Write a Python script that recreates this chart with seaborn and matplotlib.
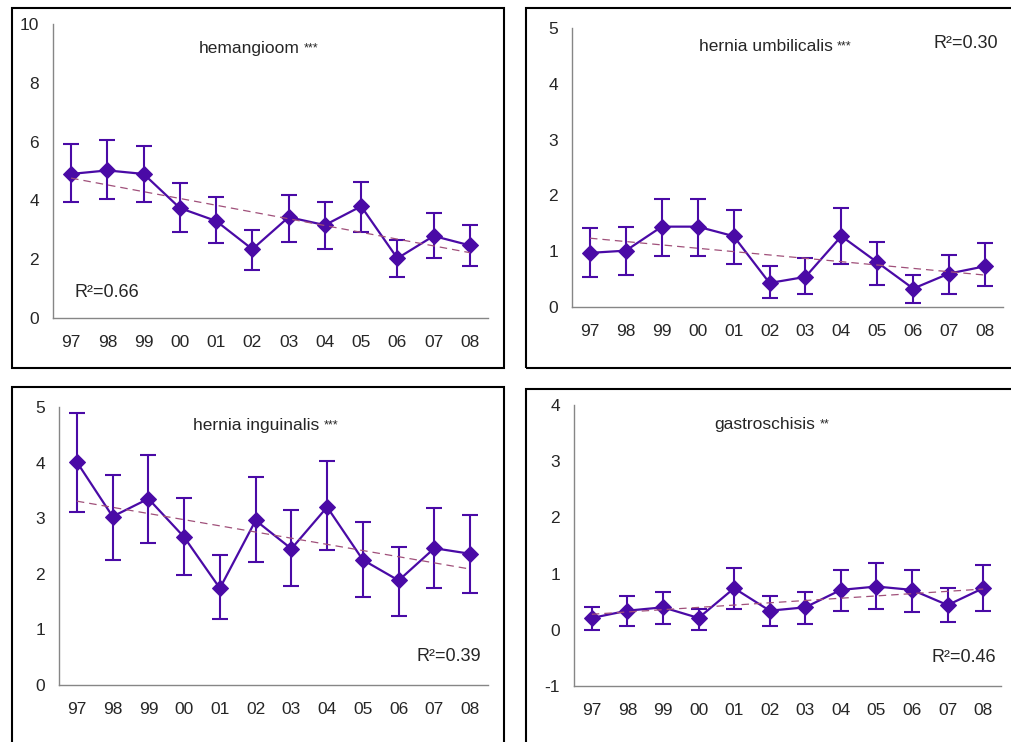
import numpy as np
import pandas as pd
import matplotlib.pyplot as plt
import seaborn as sns
from matplotlib.patches import Rectangle

# year labels (1997-2008)
years = ['97', '98', '99', '00', '01', '02', '03', '04', '05', '06', '07', '08']

# hemangioom
hem_rate = [4.90, 5.02, 4.90, 3.74, 3.30, 2.34, 3.43, 3.16, 3.80, 2.03, 2.79, 2.47]
hem_low = [3.94, 4.05, 3.94, 2.92, 2.54, 1.64, 2.60, 2.34, 2.92, 1.39, 2.03, 1.78]
hem_high = [5.92, 6.05, 5.85, 4.59, 4.13, 2.99, 4.20, 3.95, 4.64, 2.67, 3.57, 3.17]

# hernia umbilicalis
umb_rate = [0.97, 1.01, 1.44, 1.44, 1.27, 0.43, 0.54, 1.27, 0.80, 0.33, 0.60, 0.73]
umb_low = [0.54, 0.57, 0.91, 0.91, 0.77, 0.17, 0.24, 0.77, 0.40, 0.07, 0.24, 0.37]
umb_high = [1.41, 1.44, 1.94, 1.94, 1.74, 0.74, 0.88, 1.78, 1.17, 0.57, 0.94, 1.14]

# hernia inguinalis
ing_rate = [4.01, 3.03, 3.35, 2.66, 1.74, 2.96, 2.45, 3.20, 2.25, 1.88, 2.46, 2.36]
ing_low = [3.11, 2.25, 2.56, 1.98, 1.18, 2.22, 1.78, 2.42, 1.58, 1.24, 1.75, 1.65]
ing_high = [4.89, 3.78, 4.14, 3.37, 2.33, 3.74, 3.14, 4.02, 2.93, 2.49, 3.18, 3.06]

# gastroschisis
gas_rate = [0.21, 0.34, 0.40, 0.21, 0.74, 0.34, 0.40, 0.71, 0.77, 0.71, 0.44, 0.74]
gas_low = [0.00, 0.07, 0.10, 0.00, 0.37, 0.07, 0.10, 0.34, 0.37, 0.31, 0.14, 0.34]
gas_high = [0.40, 0.61, 0.67, 0.37, 1.10, 0.61, 0.67, 1.07, 1.18, 1.07, 0.74, 1.15]

LINE = '#4a0aa6'
TREND = '#a0507a'
AXIS = '#868686'

sns.set_style('white')
plt.rcParams['font.family'] = ['Liberation Sans', 'DejaVu Sans']
plt.rcParams['axes.unicode_minus'] = False

W, H = 1011, 742
fig = plt.figure(figsize=(W / 100, H / 100), dpi=100)


def px_axes(left, right, bottom, top):
    # pixel box -> figure fraction
    return fig.add_axes([left / W, 1 - bottom / H, (right - left) / W, (bottom - top) / H])


def draw_panel(ax, name, stars, rate, low, high, ylim, ystep, r2, r2_xy, r2_ha, title_xy):
    rate = np.array(rate)
    df = pd.DataFrame({'x': np.arange(len(years)), 'rate': rate,
                       'low': low, 'high': high})

    ax.errorbar(df['x'], df['rate'], yerr=[df['rate'] - df['low'], df['high'] - df['rate']],
                fmt='none', ecolor=LINE, elinewidth=1.5, capsize=5.5, capthick=1.5, zorder=2)
    sns.lineplot(data=df, x='x', y='rate', ax=ax, color=LINE, lw=1.6, marker='D',
                 markersize=8.5, markeredgecolor=LINE, zorder=3)
    sns.regplot(data=df, x='x', y='rate', ax=ax, scatter=False, ci=None, truncate=True,
                line_kws=dict(color=TREND, lw=0.9, ls=(0, (6, 4)), zorder=4))

    ax.set_xlim(-0.5, len(years) - 0.5)
    ax.set_ylim(*ylim)
    ax.set_yticks(np.arange(ylim[0], ylim[1] + 0.01, ystep))
    ax.set_xticks(df['x'])
    ax.set_xticklabels(years)
    ax.set_xticks(np.arange(-0.5, len(years)), minor=True)
    ax.tick_params(axis='x', which='major', length=0, pad=12, labelsize=12.5)
    ax.tick_params(axis='x', which='minor', length=5, width=1, color=AXIS, direction='out')
    ax.tick_params(axis='y', length=4, width=1, color=AXIS, direction='out', pad=6, labelsize=12.5)
    ax.set_xlabel('')
    ax.set_ylabel('')
    for s in ['top', 'right']:
        ax.spines[s].set_visible(False)
    for s in ['left', 'bottom']:
        ax.spines[s].set_color(AXIS)
        ax.spines[s].set_linewidth(1)

    t = ax.text(title_xy[0], title_xy[1], name, transform=ax.transAxes,
                ha='center', va='center', fontsize=12.5)
    ax.annotate(stars, xy=(1, 1), xycoords=t, xytext=(3, -1), textcoords='offset points',
                ha='left', va='top', fontsize=9)
    ax.text(r2_xy[0], r2_xy[1], f'R\u00b2=0{r2}', transform=ax.transAxes,
            ha=r2_ha, va='center', fontsize=13)


# panel frames (chart area borders)
for (x0, y0, x1, y1) in [(12, 8, 504, 368), (526, 8, 1030, 368),
                         (12, 387, 504, 760), (526, 389, 1030, 760)]:
    fig.add_artist(Rectangle((x0 / W, 1 - y1 / H), (x1 - x0) / W, (y1 - y0) / H,
                             transform=fig.transFigure, fill=False, ec='black', lw=1.5))

ax1 = px_axes(53, 488, 318, 24)
draw_panel(ax1, 'hemangioom', '***', hem_rate, hem_low, hem_high, (0, 10), 2,
           '.66', (0.05, 0.088), 'left', (0.45, 0.918))

ax2 = px_axes(572, 1003, 307, 28)
draw_panel(ax2, 'hernia umbilicalis', '***', umb_rate, umb_low, umb_high, (0, 5), 1,
           '.30', (0.988, 0.946), 'right', (0.45, 0.932))

ax3 = px_axes(59, 488, 685, 407)
draw_panel(ax3, 'hernia inguinalis', '***', ing_rate, ing_low, ing_high, (0, 5), 1,
           '.39', (0.984, 0.104), 'right', (0.46, 0.935))

ax4 = px_axes(574, 1001, 686, 405)
draw_panel(ax4, 'gastroschisis', '**', gas_rate, gas_low, gas_high, (-1, 4), 1,
           '.46', (0.988, 0.10), 'right', (0.447, 0.929))

fig.savefig('out.png', dpi=100)
